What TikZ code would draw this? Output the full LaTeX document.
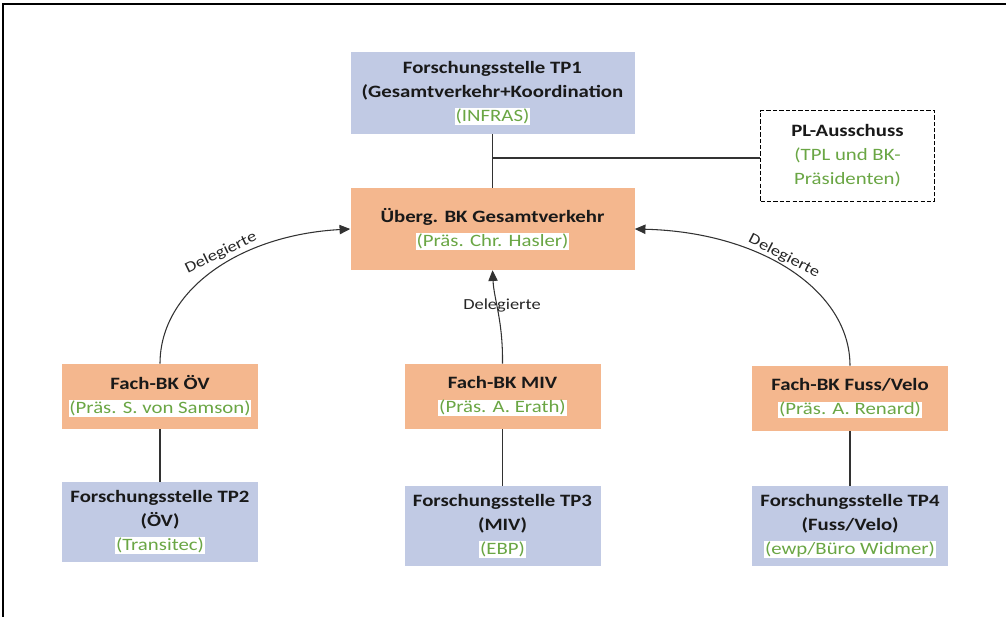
\documentclass[tikz,border=0pt]{standalone}
\usepackage{fontspec}
\setmainfont{Carlito}[FakeStretch=1.2]
\usetikzlibrary{arrows.meta}
\definecolor{boxblue}{RGB}{193,202,228}
\definecolor{boxorange}{RGB}{244,183,142}
\definecolor{grn}{RGB}{106,166,68}
\definecolor{linegray}{RGB}{50,50,50}
\newcommand\gtext[1]{{\setlength\fboxsep{0.6pt}\colorbox{white}{\color{grn}\mdseries #1}}}
\tikzset{
  base/.style={align=center, inner sep=0pt, font=\fontsize{13}{18}\selectfont\bfseries, text=black!90},
  bluebox/.style={base, fill=boxblue},
  orangebox/.style={base, fill=boxorange},
  dashbox/.style={base, draw=black, dash pattern=on 3.2pt off 1.6pt, line width=1.4pt, fill=white},
  conn/.style={draw=linegray, line width=0.8pt},
  arr/.style={conn, -{Triangle[length=8pt,width=7pt]}},
  lbl/.style={font=\fontsize{11.5}{14}\selectfont, text=black!85, inner sep=1pt}
}
\begin{document}
\begin{tikzpicture}[x={(0.75pt,0)}, y={(0,-0.75pt)}]
\useasboundingbox (0,0) rectangle (1006,617);
\draw[line width=1.1pt] (3,617) -- (3,4) -- (1006,4);

\node[bluebox, minimum width=213pt, minimum height=61.5pt] (tp1) at (492.5,93)
  {Forschungsstelle TP1\\(Gesamtverkehr+Koordination\\\gtext{(INFRAS)}};
\node[orangebox, minimum width=213pt, minimum height=61.5pt] (bk) at (492.5,229)
  {Überg. BK Gesamtverkehr\\\gtext{(Präs. Chr. Hasler)}};
\node[dashbox, minimum width=130.5pt, minimum height=68.25pt] (pl) at (847.5,156)
  {PL-Ausschuss\\\gtext{(TPL und BK-}\\\gtext{Präsidenten)}};

\node[orangebox, minimum width=147pt, minimum height=48.75pt] (oev) at (160,396.5)
  {Fach-BK ÖV\\\gtext{(Präs. S. von Samson)}};
\node[bluebox, minimum width=147pt, minimum height=60pt] (tp2) at (160,522)
  {Forschungsstelle TP2\\(ÖV)\\\gtext{(Transitec)}};

\node[orangebox, minimum width=147pt, minimum height=48.75pt] (miv) at (502.5,396.5)
  {Fach-BK MIV\\\gtext{(Präs. A. Erath)}};
\node[bluebox, minimum width=147pt, minimum height=60pt] (tp3) at (502.5,526)
  {Forschungsstelle TP3\\(MIV)\\\gtext{(EBP)}};

\node[orangebox, minimum width=147pt, minimum height=48.75pt] (fuss) at (850,398.5)
  {Fach-BK Fuss/Velo\\\gtext{(Präs. A. Renard)}};
\node[bluebox, minimum width=147pt, minimum height=60pt] (tp4) at (850,526)
  {Forschungsstelle TP4\\(Fuss/Velo)\\\gtext{(ewp/Büro Widmer)}};

\coordinate (j) at (492.5,158);
\draw[conn] (tp1.south) -- (bk.north);
\draw[conn] (j) -- (j -| pl.west);

\draw[conn] (oev.south) -- (tp2.north);
\draw[conn] (miv.south) -- (tp3.north);
\draw[conn] (fuss.south) -- (tp4.north);

\draw[arr] (oev.north) .. controls (160,290) and (240,235) .. (bk.west);
\draw[arr] (fuss.north) .. controls (850,290) and (760,232) .. (bk.east);
\draw[arr] (miv.north) .. controls (503,320) and (494,300) .. (bk.south);

\node[lbl, rotate=26] (l1) at (221,253) {Delegierte};
\node[lbl] (l2) at (502,305) {Delegierte};
\node[lbl, rotate=-27] (l3) at (784,256) {Delegierte};
\end{tikzpicture}
\end{document}
